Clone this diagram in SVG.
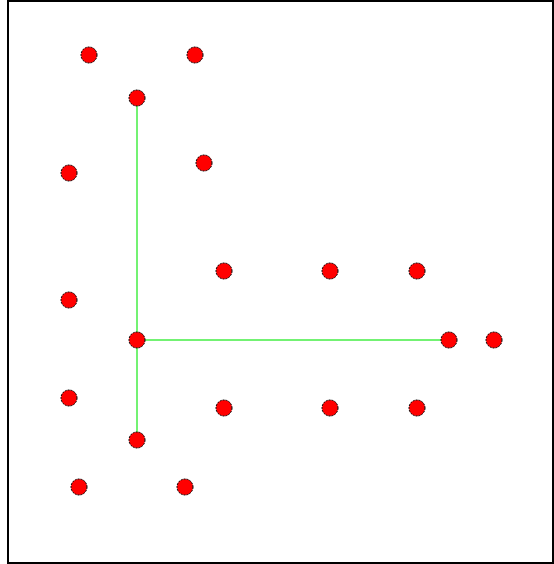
<svg xmlns="http://www.w3.org/2000/svg" width="554" height="564" viewBox="0 0 554 564">
<style>
.n{fill:#ff0000;stroke:#000;stroke-width:1;stroke-dasharray:2 1}
.e{stroke:#44ee44;stroke-width:1.5;fill:none}
</style>
<rect x="0" y="0" width="554" height="564" fill="#fff"/>
<rect x="8" y="1" width="545" height="562" fill="none" stroke="#000" stroke-width="2"/>
<g id="connectors">
<line class="e" x1="137" y1="98" x2="137" y2="440"/>
<line class="e" x1="137" y1="340" x2="449" y2="340"/>
</g>
<g id="n1"><circle class="n" cx="89" cy="55" r="8"/></g>
<g id="n2"><circle class="n" cx="195" cy="55" r="8"/></g>
<g id="n3"><circle class="n" cx="137" cy="98" r="8"/></g>
<g id="n4"><circle class="n" cx="69" cy="173" r="8"/></g>
<g id="n5"><circle class="n" cx="204" cy="163" r="8"/></g>
<g id="n6"><circle class="n" cx="224" cy="271" r="8"/></g>
<g id="n7"><circle class="n" cx="330" cy="271" r="8"/></g>
<g id="n8"><circle class="n" cx="417" cy="271" r="8"/></g>
<g id="n9"><circle class="n" cx="69" cy="300" r="8"/></g>
<g id="n10"><circle class="n" cx="137" cy="340" r="8"/></g>
<g id="n11"><circle class="n" cx="449" cy="340" r="8"/></g>
<g id="n12"><circle class="n" cx="494" cy="340" r="8"/></g>
<g id="n13"><circle class="n" cx="69" cy="398" r="8"/></g>
<g id="n14"><circle class="n" cx="224" cy="408" r="8"/></g>
<g id="n15"><circle class="n" cx="330" cy="408" r="8"/></g>
<g id="n16"><circle class="n" cx="417" cy="408" r="8"/></g>
<g id="n17"><circle class="n" cx="137" cy="440" r="8"/></g>
<g id="n18"><circle class="n" cx="79" cy="487" r="8"/></g>
<g id="n19"><circle class="n" cx="185" cy="487" r="8"/></g>
</svg>
